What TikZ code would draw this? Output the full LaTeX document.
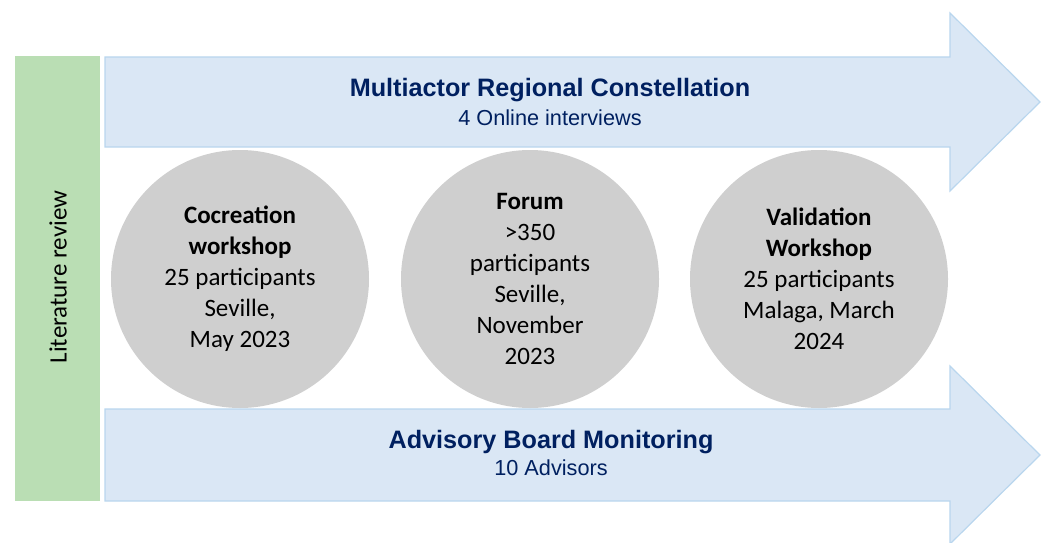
\documentclass[tikz,border=0pt]{standalone}
\usepackage{fontspec}
\setmainfont{Carlito}
\newfontfamily\headfont{Liberation Sans}
\usetikzlibrary{positioning}

\definecolor{navy}{RGB}{0,32,96}
\definecolor{flowfill}{RGB}{218,231,245}
\definecolor{flowline}{RGB}{185,214,238}
\definecolor{litfill}{RGB}{186,222,180}
\definecolor{eventfill}{RGB}{207,207,207}

\tikzset{
  flow/.style={fill=flowfill,draw=flowline,line width=1.2pt,line join=miter},
  event/.style={circle,fill=eventfill,minimum size=258pt,inner sep=0pt,align=center,
    font=\fontsize{25}{31}\selectfont},
  headline/.style={font=\headfont\bfseries\fontsize{25.2}{30}\selectfont,text=navy,anchor=base,inner sep=0pt},
  subline/.style={font=\headfont\fontsize{21.7}{26}\selectfont,text=navy,anchor=base,inner sep=0pt}
}

\begin{document}
\begin{tikzpicture}[x=1pt,y=1pt]
\useasboundingbox (0,0) rectangle (1046,542);

% literature review bar
\fill[litfill] (15,41) rectangle (100,486);
\node[rotate=90,font=\fontsize{25}{30}\selectfont](lit) at (58,265){Literature review};

% the three events
\node[event](cocreation) at (240,263){\textbf{Cocreation}\\\textbf{workshop}\\25 participants\\Seville,\\May 2023};
\node[event](forum) at (530,263){\textbf{Forum}\\>350\\participants\\Seville,\\November\\2023};
\node[event](validation) at (819,263){\textbf{Validation}\\\textbf{Workshop}\\25 participants\\Malaga, March\\2024};

% top and bottom arrows
\draw[flow] (105,395) -- (950,395) -- (950,351) -- (1040,440) -- (950,529) -- (950,485) -- (105,485) -- cycle;
\draw[flow] (105,41) -- (950,41) -- (950,-2) -- (1040,87) -- (950,176) -- (950,133) -- (105,133) -- cycle;

\node[headline](mrc) at (550,445){Multiactor Regional Constellation};
\node[subline](interviews) at (550,417){4 Online interviews};
\node[headline](abm) at (551,94){Advisory Board Monitoring};
\node[subline](advisors) at (551,67){10 Advisors};
\end{tikzpicture}
\end{document}
